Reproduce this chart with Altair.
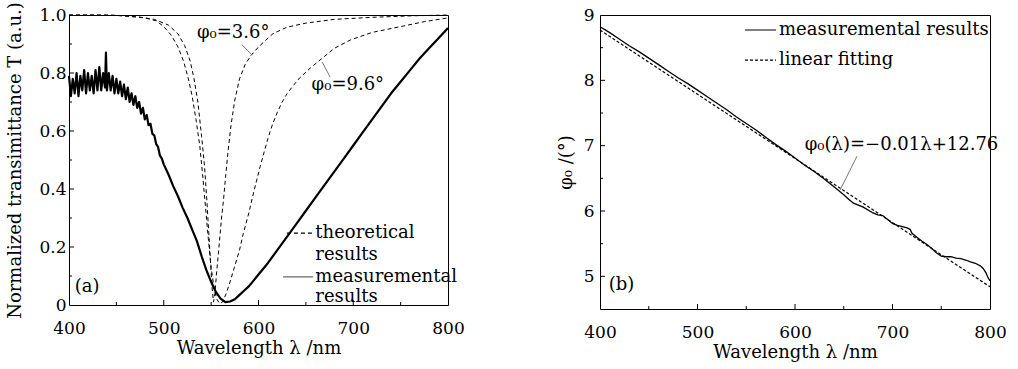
import altair as alt
import pandas as pd

# ---------------- Panel (a) data ----------------
meas_wl = [400, 402, 404, 406, 408, 410, 412, 414, 416, 418, 420, 422, 424, 426, 428, 430,
           432, 434, 436, 438, 439, 440, 442, 444, 446, 448, 450, 452, 454, 456, 458, 460,
           462, 464, 466, 468, 470, 472, 474, 476, 478, 480, 482, 484, 486, 488, 490, 492,
           494, 496, 498, 500, 505, 510, 515, 520, 525, 530, 535, 540, 545, 550, 555, 560,
           565, 570, 575, 580, 585, 590, 595, 600, 605, 610, 620, 630, 640, 650, 660, 670,
           680, 690, 700, 710, 720, 730, 740, 750, 760, 770, 780, 790, 800]
meas_T = [0.79, 0.72, 0.78, 0.73, 0.80, 0.72, 0.79, 0.74, 0.81, 0.73, 0.80, 0.74, 0.79, 0.73, 0.81, 0.74,
          0.82, 0.74, 0.80, 0.75, 0.87, 0.74, 0.80, 0.74, 0.79, 0.73, 0.78, 0.73, 0.77, 0.72, 0.76, 0.71,
          0.75, 0.70, 0.73, 0.69, 0.72, 0.68, 0.70, 0.66, 0.68, 0.64, 0.655, 0.62, 0.625, 0.59, 0.585, 0.555,
          0.545, 0.515, 0.505, 0.485, 0.45, 0.41, 0.375, 0.335, 0.30, 0.26, 0.22, 0.168, 0.12, 0.08, 0.045, 0.022,
          0.01, 0.012, 0.02, 0.035, 0.05, 0.065, 0.085, 0.105, 0.125, 0.145, 0.19, 0.235, 0.28, 0.325, 0.37, 0.415,
          0.46, 0.505, 0.55, 0.595, 0.64, 0.685, 0.73, 0.77, 0.81, 0.85, 0.885, 0.92, 0.955]

th36_wl = [400, 440, 470, 490, 505, 515, 522, 528, 532, 536, 540, 543, 545.5, 547.5, 549.5, 551,
           552.5, 554, 556, 558, 561, 563, 565.5, 568, 571, 575, 580, 586, 592, 600, 615, 630,
           650, 680, 720, 760, 800]
th36_T = [1.0, 1.0, 0.995, 0.985, 0.965, 0.935, 0.895, 0.84, 0.78, 0.70, 0.58, 0.48, 0.36, 0.25, 0.14, 0.06,
          0.01, 0.04, 0.12, 0.19, 0.30, 0.36, 0.45, 0.534, 0.62, 0.707, 0.78, 0.83, 0.86, 0.89, 0.935, 0.958,
          0.972, 0.985, 0.992, 0.997, 1.0]

th96_wl = [400, 450, 480, 492, 500, 508, 515, 521, 526, 530, 534, 538, 541, 544, 547, 550,
           553, 556, 559, 562, 566, 570, 575, 580, 584, 590, 595, 601.7, 610, 615, 620, 625,
           630, 637, 644, 655, 665, 680, 697, 720, 750, 775, 800]
th96_T = [1.0, 0.999, 0.99, 0.98, 0.96, 0.93, 0.89, 0.84, 0.78, 0.72, 0.64, 0.55, 0.45, 0.34, 0.23, 0.13,
          0.06, 0.02, 0.005, 0.01, 0.04, 0.08, 0.135, 0.19, 0.247, 0.32, 0.39, 0.477, 0.575, 0.625, 0.665, 0.70,
          0.728, 0.758, 0.785, 0.818, 0.845, 0.885, 0.914, 0.94, 0.96, 0.977, 0.99]

a_text = ["φ₀=3.6°", "φ₀=9.6°", "(a)", "theoretical", "results", "measuremental", "results"]
a_text_x = [535, 656, 406, 660, 660, 660, 660]
a_text_y = [0.938, 0.759, 0.062, 0.248, 0.172, 0.097, 0.028]

a_lead_x = [582.7, 667.2]
a_lead_x2 = [593.2, 675.6]
a_lead_y = [0.897, 0.838]
a_lead_y2 = [0.862, 0.786]

a_leg_x = [630, 626]
a_leg_x2 = [657.7, 657.7]
a_leg_y = [0.248, 0.097]
a_leg_kind = ["dash", "solid"]

a_xticks_major = [500, 600, 700]
a_xticks_minor = [450, 550, 650, 750]
a_yticks_major = [0.2, 0.4, 0.6, 0.8]
a_yticks_minor = [0.1, 0.3, 0.5, 0.7, 0.9]

# ---------------- Panel (b) data ----------------
phi_wl = [400, 410, 420, 430, 440, 450, 460, 470, 480, 490, 500, 510, 520, 530, 540, 550,
          560, 570, 580, 590, 600, 610, 620, 630, 640, 650, 655, 660, 670, 680, 685, 690,
          695, 700, 705, 710, 715, 718, 720, 725, 730, 735, 740, 745, 750, 755, 760, 765,
          770, 775, 780, 785, 790, 793, 796, 798, 800]
phi_val = [8.82, 8.73, 8.63, 8.53, 8.44, 8.34, 8.24, 8.14, 8.04, 7.95, 7.85, 7.75, 7.65, 7.55, 7.44, 7.34,
           7.24, 7.13, 7.02, 6.92, 6.81, 6.70, 6.60, 6.49, 6.37, 6.25, 6.18, 6.12, 6.06, 5.97, 5.94, 5.93,
           5.87, 5.81, 5.78, 5.76, 5.74, 5.72, 5.66, 5.60, 5.54, 5.49, 5.43, 5.36, 5.31, 5.30, 5.30, 5.28,
           5.27, 5.25, 5.22, 5.20, 5.16, 5.12, 5.05, 4.98, 4.93]
fit_wl = [400, 800]
fit_val = [8.77, 4.84]

b_text = ["φ₀(λ)=−0.01λ+12.76", "(b)", "measuremental results", "linear fitting"]
b_text_x = [610, 409, 583.6, 583.6]
b_text_y = [7.01, 4.865, 8.77, 8.31]

b_lead_x = [663.6]
b_lead_x2 = [646.2]
b_lead_y = [6.84]
b_lead_y2 = [6.32]

b_leg_x = [548.7, 548.7]
b_leg_x2 = [580.5, 580.5]
b_leg_y = [8.77, 8.31]
b_leg_kind = ["solid", "fit"]

b_xticks_major = [500, 600, 700]
b_xticks_minor = [450, 550, 650, 750]
b_yticks_major = [5, 6, 7, 8]
b_yticks_minor = [5.5, 6.5, 7.5, 8.5]

FONT = "DejaVu Serif"
TICK_FS = 17
TITLE_FS = 18
TEXT_FS = 18


def xenc(field, title):
    return alt.X(field, type="quantitative",
                 scale=alt.Scale(domain=[400, 800], nice=False, zero=False),
                 axis=alt.Axis(values=[400, 500, 600, 700, 800], ticks=False, domain=False, grid=False,
                               labelFlush=False,
                               labelFont=FONT, labelFontSize=TICK_FS, labelColor="black", labelPadding=15,
                               title=title, titleFont=FONT, titleFontSize=TITLE_FS, titleFontWeight="normal",
                               titleColor="black", titlePadding=3, format="d"))


def panel(layers_data, W, H, ydomain, yvalues, ylabel_expr, ytitle, ylab_pad, ytitle_pad,
          texts, leads, legs, solid_col, xt_major, xt_minor, yt_major, yt_minor, dash_fit):
    yaxis = alt.Axis(values=yvalues, ticks=False, domain=False, grid=False, labelFlush=False,
                     labelFont=FONT, labelFontSize=TICK_FS, labelColor="black", labelPadding=ylab_pad,
                     labelExpr=ylabel_expr,
                     title=ytitle, titleFont=FONT, titleFontSize=TITLE_FS, titleFontWeight="normal",
                     titleColor="black", titlePadding=ytitle_pad)

    def yenc(field):
        return alt.Y(field, type="quantitative",
                     scale=alt.Scale(domain=ydomain, nice=False, zero=False), axis=yaxis)

    xtitle = "Wavelength λ /nm"

    def x_(field):
        return xenc(field, xtitle)

    out = []
    for df, style in layers_data:
        if style == "meas":
            m = alt.Chart(df).mark_line(color="black", strokeWidth=2.2, strokeJoin="round")
        elif style == "meas_thin":
            m = alt.Chart(df).mark_line(color="black", strokeWidth=1.3)
        elif style == "dash":
            m = alt.Chart(df).mark_line(color="black", strokeWidth=1, strokeDash=[4, 3])
        else:
            m = alt.Chart(df).mark_line(color="black", strokeWidth=1.2, strokeDash=dash_fit)
        out.append(m.encode(x=x_("x"), y=yenc("y"), order="i:Q"))

    out.append(alt.Chart(texts).mark_text(align="left", baseline="middle", font=FONT, fontSize=TEXT_FS,
                                          color="black").encode(x=x_("x"), y=yenc("y"), text="t:N"))

    out.append(alt.Chart(leads).mark_rule(color="#777777", strokeWidth=1).encode(
        x=x_("x"), x2="x2", y=yenc("y"), y2="y2"))

    for kind, dash, col in [("dash", [4, 3], "black"), ("solid", [1, 0], solid_col), ("fit", dash_fit, "black")]:
        sub = legs[legs["k"] == kind]
        if len(sub):
            out.append(alt.Chart(sub).mark_rule(color=col, strokeWidth=1.1, strokeDash=dash).encode(
                x=x_("x"), x2="x2", y=yenc("y")))

    xmj = pd.DataFrame({"x": xt_major})
    xmn = pd.DataFrame({"x": xt_minor})
    ymj = pd.DataFrame({"y": yt_major})
    ymn = pd.DataFrame({"y": yt_minor})
    out.append(alt.Chart(xmj).mark_rule(color="black").encode(x=x_("x"), y=alt.value(H), y2=alt.value(H - 5)))
    out.append(alt.Chart(xmn).mark_rule(color="black").encode(x=x_("x"), y=alt.value(H), y2=alt.value(H - 3)))
    out.append(alt.Chart(ymj).mark_rule(color="black").encode(y=yenc("y"), x=alt.value(0), x2=alt.value(5)))
    out.append(alt.Chart(ymn).mark_rule(color="black").encode(y=yenc("y"), x=alt.value(0), x2=alt.value(3)))

    return alt.layer(*out).properties(width=W, height=H)


def line_df(xs, ys):
    return pd.DataFrame({"x": xs, "y": ys, "i": list(range(len(xs)))})


# Panel (a)
a_layers = [(line_df(meas_wl, meas_T), "meas"),
            (line_df(th36_wl, th36_T), "dash"),
            (line_df(th96_wl, th96_T), "dash")]
a_texts = pd.DataFrame({"x": a_text_x, "y": a_text_y, "t": a_text})
a_leads = pd.DataFrame({"x": a_lead_x, "x2": a_lead_x2, "y": a_lead_y, "y2": a_lead_y2})
a_legs = pd.DataFrame({"x": a_leg_x, "x2": a_leg_x2, "y": a_leg_y, "k": a_leg_kind})

left = panel(a_layers, 379, 290, [0, 1], [0, 0.2, 0.4, 0.6, 0.8, 1.0],
             "datum.value == 0 ? '0' : format(datum.value, '.1f')",
             "Normalized transimittance T (a.u.)", 3, 14,
             a_texts, a_leads, a_legs, "#666666",
             a_xticks_major, a_xticks_minor, a_yticks_major, a_yticks_minor, [3, 2])

# Panel (b)
b_layers = [(line_df(phi_wl, phi_val), "meas_thin"),
            (line_df(fit_wl, fit_val), "fit")]
b_texts = pd.DataFrame({"x": b_text_x, "y": b_text_y, "t": b_text})
b_leads = pd.DataFrame({"x": b_lead_x, "x2": b_lead_x2, "y": b_lead_y, "y2": b_lead_y2})
b_legs = pd.DataFrame({"x": b_leg_x, "x2": b_leg_x2, "y": b_leg_y, "k": b_leg_kind})

right = panel(b_layers, 390, 294, [4.5, 9], [5, 6, 7, 8, 9],
              "format(datum.value, 'd')",
              "φ₀ /(°)", 6, 8,
              b_texts, b_leads, b_legs, "black",
              b_xticks_major, b_xticks_minor, b_yticks_major, b_yticks_minor, [3, 2])

chart = alt.hconcat(left, right, spacing=91).properties(
    padding={"left": 6, "top": 1, "right": 5, "bottom": 5},
    background="white",
).configure_view(stroke="black", strokeWidth=1)

chart.save("out.html", embed_options={"renderer": "svg", "actions": False})
